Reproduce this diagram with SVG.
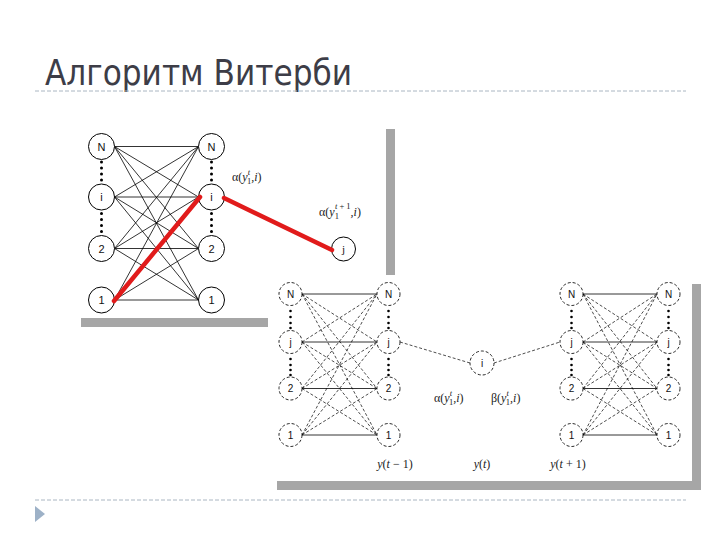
<svg xmlns="http://www.w3.org/2000/svg" width="720" height="540" viewBox="0 0 720 540">
<style>
.n circle{fill:#fff;stroke:#000;stroke-width:1}
.d circle{fill:#fff;stroke:#111;stroke-width:0.9;stroke-dasharray:3 2}
.n text,.d text{font-family:"Liberation Sans",Arial,sans-serif;font-size:11px;text-anchor:middle;fill:#111}
.d text{font-size:10px}
.m{font-family:"Liberation Serif","Times New Roman",serif;font-size:12px;fill:#222}
.m .i{font-style:italic}
.s{font-size:8.5px}
.e line{stroke:#000;stroke-width:0.8}
.e .dl{stroke-dasharray:3 2;stroke-width:0.7}
.red line{stroke:#e11b1b;stroke-width:4.5;stroke-linecap:round}
.dot{fill:#000}
</style>
<rect width="720" height="540" fill="#fff"/>
<text x="45" y="85" font-family="DejaVu Sans,Verdana,sans-serif" font-size="36" fill="#3d3d47" textLength="307" lengthAdjust="spacingAndGlyphs">Алгоритм Витерби</text>
<line x1="35" y1="91" x2="686" y2="91" stroke="#aab6c2" stroke-width="1" stroke-dasharray="4 2"/>
<line x1="35" y1="500" x2="686" y2="500" stroke="#aab6c2" stroke-width="1" stroke-dasharray="4 2"/>
<polygon points="35,506 45,514 35,522" fill="#9db1c7"/>

<!-- image 1 frame -->
<rect x="81" y="129" width="314" height="198" fill="#a6a6a6"/>
<rect x="72" y="120" width="314" height="198" fill="#fff"/>
<!-- image 2 frame -->
<rect x="277" y="284" width="424" height="206" fill="#a6a6a6"/>
<rect x="268" y="275" width="424" height="206" fill="#fff"/>

<g id="connectors" class="e">
  <!-- top trellis -->
  <line x1="114.5" y1="146.5" x2="198.5" y2="146.5"/>
  <line x1="114.5" y1="146.5" x2="198.5" y2="197"/>
  <line x1="114.5" y1="146.5" x2="198.5" y2="248.5"/>
  <line x1="114.5" y1="146.5" x2="198.5" y2="300"/>
  <line x1="114.5" y1="197" x2="198.5" y2="146.5"/>
  <line x1="114.5" y1="197" x2="198.5" y2="197"/>
  <line x1="114.5" y1="197" x2="198.5" y2="248.5"/>
  <line x1="114.5" y1="197" x2="198.5" y2="300"/>
  <line x1="114.5" y1="248.5" x2="198.5" y2="146.5"/>
  <line x1="114.5" y1="248.5" x2="198.5" y2="197"/>
  <line x1="114.5" y1="248.5" x2="198.5" y2="248.5"/>
  <line x1="114.5" y1="248.5" x2="198.5" y2="300"/>
  <line x1="114.5" y1="300" x2="198.5" y2="146.5"/>
  <line x1="114.5" y1="300" x2="198.5" y2="197"/>
  <line x1="114.5" y1="300" x2="198.5" y2="248.5"/>
  <line x1="114.5" y1="300" x2="198.5" y2="300"/>

  <!-- bottom-left trellis -->
  <line x1="302" y1="294" x2="377" y2="294"/>
  <line class="dl" x1="302" y1="294" x2="377" y2="342"/>
  <line class="dl" x1="302" y1="294" x2="377" y2="388.5"/>
  <line class="dl" x1="302" y1="294" x2="377" y2="435"/>
  <line class="dl" x1="302" y1="342" x2="377" y2="294"/>
  <line x1="302" y1="342" x2="377" y2="342"/>
  <line class="dl" x1="302" y1="342" x2="377" y2="388.5"/>
  <line class="dl" x1="302" y1="342" x2="377" y2="435"/>
  <line class="dl" x1="302" y1="388.5" x2="377" y2="294"/>
  <line class="dl" x1="302" y1="388.5" x2="377" y2="342"/>
  <line x1="302" y1="388.5" x2="377" y2="388.5"/>
  <line class="dl" x1="302" y1="388.5" x2="377" y2="435"/>
  <line class="dl" x1="302" y1="435" x2="377" y2="294"/>
  <line class="dl" x1="302" y1="435" x2="377" y2="342"/>
  <line class="dl" x1="302" y1="435" x2="377" y2="388.5"/>
  <line x1="302" y1="435" x2="377" y2="435"/>

  <!-- bottom-right trellis -->
  <line x1="583" y1="294" x2="657" y2="294"/>
  <line class="dl" x1="583" y1="294" x2="657" y2="342"/>
  <line class="dl" x1="583" y1="294" x2="657" y2="388.5"/>
  <line class="dl" x1="583" y1="294" x2="657" y2="435"/>
  <line class="dl" x1="583" y1="342" x2="657" y2="294"/>
  <line x1="583" y1="342" x2="657" y2="342"/>
  <line class="dl" x1="583" y1="342" x2="657" y2="388.5"/>
  <line class="dl" x1="583" y1="342" x2="657" y2="435"/>
  <line class="dl" x1="583" y1="388.5" x2="657" y2="294"/>
  <line class="dl" x1="583" y1="388.5" x2="657" y2="342"/>
  <line x1="583" y1="388.5" x2="657" y2="388.5"/>
  <line class="dl" x1="583" y1="388.5" x2="657" y2="435"/>
  <line class="dl" x1="583" y1="435" x2="657" y2="294"/>
  <line class="dl" x1="583" y1="435" x2="657" y2="342"/>
  <line class="dl" x1="583" y1="435" x2="657" y2="388.5"/>
  <line x1="583" y1="435" x2="657" y2="435"/>

  <!-- middle -->
  <line class="dl" x1="400" y1="342" x2="470" y2="363"/>
  <line class="dl" x1="494" y1="363" x2="560" y2="342"/>
</g>

<!-- dots -->
<g id="dots" class="dot">
  <circle cx="101.5" cy="162" r="1.5"/><circle cx="101.5" cy="168" r="1.5"/><circle cx="101.5" cy="174" r="1.5"/><circle cx="101.5" cy="180" r="1.5"/>
  <circle cx="101.5" cy="213.5" r="1.5"/><circle cx="101.5" cy="219.5" r="1.5"/><circle cx="101.5" cy="225.5" r="1.5"/><circle cx="101.5" cy="231.5" r="1.5"/>
  <circle cx="211.5" cy="162" r="1.5"/><circle cx="211.5" cy="168" r="1.5"/><circle cx="211.5" cy="174" r="1.5"/><circle cx="211.5" cy="180" r="1.5"/>
  <circle cx="211.5" cy="213.5" r="1.5"/><circle cx="211.5" cy="219.5" r="1.5"/><circle cx="211.5" cy="225.5" r="1.5"/><circle cx="211.5" cy="231.5" r="1.5"/>
  <circle cx="290.5" cy="311" r="1.3"/><circle cx="290.5" cy="317" r="1.3"/><circle cx="290.5" cy="323" r="1.3"/><circle cx="290.5" cy="328" r="1.3"/>
  <circle cx="290.5" cy="359" r="1.3"/><circle cx="290.5" cy="365" r="1.3"/><circle cx="290.5" cy="370" r="1.3"/><circle cx="290.5" cy="375" r="1.3"/>
  <circle cx="388.5" cy="311" r="1.3"/><circle cx="388.5" cy="317" r="1.3"/><circle cx="388.5" cy="323" r="1.3"/><circle cx="388.5" cy="328" r="1.3"/>
  <circle cx="388.5" cy="359" r="1.3"/><circle cx="388.5" cy="365" r="1.3"/><circle cx="388.5" cy="370" r="1.3"/><circle cx="388.5" cy="375" r="1.3"/>
  <circle cx="571.5" cy="311" r="1.3"/><circle cx="571.5" cy="317" r="1.3"/><circle cx="571.5" cy="323" r="1.3"/><circle cx="571.5" cy="328" r="1.3"/>
  <circle cx="571.5" cy="359" r="1.3"/><circle cx="571.5" cy="365" r="1.3"/><circle cx="571.5" cy="370" r="1.3"/><circle cx="571.5" cy="375" r="1.3"/>
  <circle cx="668.5" cy="311" r="1.3"/><circle cx="668.5" cy="317" r="1.3"/><circle cx="668.5" cy="323" r="1.3"/><circle cx="668.5" cy="328" r="1.3"/>
  <circle cx="668.5" cy="359" r="1.3"/><circle cx="668.5" cy="365" r="1.3"/><circle cx="668.5" cy="370" r="1.3"/><circle cx="668.5" cy="375" r="1.3"/>
</g>

<!-- top trellis nodes -->
<g id="t-l-N" class="n"><circle cx="101.5" cy="146.5" r="13"/><text x="101.5" y="150.5">N</text></g>
<g id="t-l-i" class="n"><circle cx="101.5" cy="197" r="13"/><text x="101.5" y="201">i</text></g>
<g id="t-l-2" class="n"><circle cx="101.5" cy="248.5" r="13"/><text x="101.5" y="252.5">2</text></g>
<g id="t-l-1" class="n"><circle cx="101.5" cy="300" r="13"/><text x="101.5" y="304">1</text></g>
<g id="t-r-N" class="n"><circle cx="211.5" cy="146.5" r="13"/><text x="211.5" y="150.5">N</text></g>
<g id="t-r-i" class="n"><circle cx="211.5" cy="197" r="13"/><text x="211.5" y="201">i</text></g>
<g id="t-r-2" class="n"><circle cx="211.5" cy="248.5" r="13"/><text x="211.5" y="252.5">2</text></g>
<g id="t-r-1" class="n"><circle cx="211.5" cy="300" r="13"/><text x="211.5" y="304">1</text></g>
<g id="t-j" class="n"><circle cx="343.5" cy="249" r="12"/><text x="343.5" y="253" style="font-family:'Liberation Serif',serif">j</text></g>

<!-- highlighted path (drawn over node outlines) -->
<g id="highlight-path" class="red">
  <line x1="114" y1="301" x2="200" y2="197"/>
  <line x1="224" y1="198" x2="332" y2="250"/>
</g>

<!-- bottom-left trellis nodes -->
<g id="bl-l-N" class="d"><circle cx="290.5" cy="294" r="11.5"/><text x="290.5" y="297.5">N</text></g>
<g id="bl-l-j" class="d"><circle cx="290.5" cy="342" r="11.5"/><text x="290.5" y="345.5">j</text></g>
<g id="bl-l-2" class="d"><circle cx="290.5" cy="388.5" r="11.5"/><text x="290.5" y="392">2</text></g>
<g id="bl-l-1" class="d"><circle cx="290.5" cy="435" r="11.5"/><text x="290.5" y="438.5">1</text></g>
<g id="bl-r-N" class="d"><circle cx="388.5" cy="294" r="11.5"/><text x="388.5" y="297.5">N</text></g>
<g id="bl-r-j" class="d"><circle cx="388.5" cy="342" r="11.5"/><text x="388.5" y="345.5">j</text></g>
<g id="bl-r-2" class="d"><circle cx="388.5" cy="388.5" r="11.5"/><text x="388.5" y="392">2</text></g>
<g id="bl-r-1" class="d"><circle cx="388.5" cy="435" r="11.5"/><text x="388.5" y="438.5">1</text></g>

<!-- middle node -->
<g id="m-i" class="d"><circle cx="482" cy="363" r="12"/><text x="482" y="366.5">i</text></g>

<!-- bottom-right trellis nodes -->
<g id="br-l-N" class="d"><circle cx="571.5" cy="294" r="11.5"/><text x="571.5" y="297.5">N</text></g>
<g id="br-l-j" class="d"><circle cx="571.5" cy="342" r="11.5"/><text x="571.5" y="345.5">j</text></g>
<g id="br-l-2" class="d"><circle cx="571.5" cy="388.5" r="11.5"/><text x="571.5" y="392">2</text></g>
<g id="br-l-1" class="d"><circle cx="571.5" cy="435" r="11.5"/><text x="571.5" y="438.5">1</text></g>
<g id="br-r-N" class="d"><circle cx="668.5" cy="294" r="11.5"/><text x="668.5" y="297.5">N</text></g>
<g id="br-r-j" class="d"><circle cx="668.5" cy="342" r="11.5"/><text x="668.5" y="345.5">j</text></g>
<g id="br-r-2" class="d"><circle cx="668.5" cy="388.5" r="11.5"/><text x="668.5" y="392">2</text></g>
<g id="br-r-1" class="d"><circle cx="668.5" cy="435" r="11.5"/><text x="668.5" y="438.5">1</text></g>

<!-- math labels -->
<text class="m" x="232" y="181">α(<tspan class="i">y</tspan><tspan class="s i" dy="-6">t</tspan><tspan class="s" dx="-3" dy="9">1</tspan><tspan class="i" dy="-3">,i</tspan>)</text>
<text class="m" x="319" y="216">α(<tspan class="i">y</tspan><tspan class="s" dy="3">1</tspan><tspan class="s" dx="-4" dy="-10"><tspan class="i">t</tspan> + 1</tspan><tspan class="i" dy="7">,i</tspan>)</text>
<text class="m" x="434" y="402">α(<tspan class="i">y</tspan><tspan class="s i" dy="-6">t</tspan><tspan class="s" dx="-3" dy="9">1</tspan><tspan class="i" dy="-3">,i</tspan>)</text>
<text class="m" x="491" y="402">β(<tspan class="i">y</tspan><tspan class="s i" dy="-6">t</tspan><tspan class="s" dx="-3" dy="9">1</tspan><tspan class="i" dy="-3">,i</tspan>)</text>
<text class="m" x="395" y="468" text-anchor="middle"><tspan class="i">y</tspan>(<tspan class="i">t</tspan> − 1)</text>
<text class="m" x="482" y="468" text-anchor="middle"><tspan class="i">y</tspan>(<tspan class="i">t</tspan>)</text>
<text class="m" x="568" y="468" text-anchor="middle"><tspan class="i">y</tspan>(<tspan class="i">t</tspan> + 1)</text>
</svg>
